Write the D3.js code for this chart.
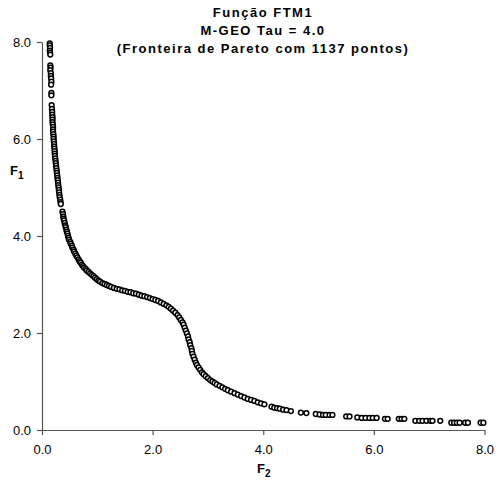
<!DOCTYPE html>
<html><head><meta charset="utf-8">
<script src="https://cdn.jsdelivr.net/npm/d3@7"></script>
<style>
html,body{margin:0;padding:0;background:#fff;}
svg{display:block;font-family:"Liberation Sans",Arial,sans-serif;}
</style></head>
<body>
<svg id="chart" width="498" height="490"></svg>
<script>
const titleLines = ["Função FTM1", "M-GEO Tau = 4.0", "(Fronteira de Pareto com 1137 pontos)"];
const xTicks = [0, 2, 4, 6, 8];
const yTicks = [0, 2, 4, 6, 8];

// [F2, F1] pairs
const branchUpper = [
 [0.14,7.97],[0.14,7.93],[0.145,7.88],[0.14,7.82],[0.145,7.78],[0.15,7.74],
 [0.15,7.52],[0.155,7.47],[0.15,7.42],[0.16,7.36],[0.16,7.3],[0.165,7.25],[0.17,7.18],[0.165,7.12],
 [0.17,6.95],[0.17,6.9],
 [0.175,6.7],[0.18,6.62],[0.185,6.56],[0.185,6.5],[0.19,6.45],[0.19,6.4],[0.19,6.35],[0.195,6.3],[0.2,6.25],
 [0.2,6.2],[0.2,6.15],[0.205,6.1],[0.21,6.05],[0.21,6.0],[0.215,5.95],[0.22,5.9],[0.22,5.85],[0.225,5.8],
 [0.23,5.75],[0.23,5.7],[0.235,5.65],[0.24,5.6],[0.245,5.55],[0.25,5.5],[0.255,5.45],[0.26,5.4],[0.265,5.35],
 [0.27,5.3],[0.275,5.25],[0.28,5.2],[0.285,5.15],[0.29,5.1],[0.295,5.05],[0.3,5.0],[0.305,4.95],[0.31,4.9],
 [0.315,4.85],[0.32,4.8],[0.33,4.75],[0.335,4.7],[0.34,4.66]
];
const branchKnee = [
 [0.37,4.5],[0.38,4.45],[0.385,4.4],[0.39,4.36],[0.4,4.32],[0.41,4.27],[0.42,4.22],[0.43,4.18],[0.44,4.13],[0.45,4.09],
 [0.46,4.05],[0.47,4.0],[0.48,3.96],[0.49,3.92],[0.51,3.88],[0.52,3.84],[0.54,3.8],[0.55,3.76],[0.57,3.72],
 [0.58,3.68],[0.6,3.64],[0.62,3.6],[0.64,3.56],[0.66,3.52],[0.68,3.48],[0.7,3.45],[0.72,3.41],[0.74,3.38],
 [0.76,3.35],[0.79,3.32],[0.81,3.29],[0.84,3.26],[0.87,3.23],[0.9,3.2],[0.93,3.17],[0.96,3.14],[0.99,3.11],
 [1.02,3.08],[1.05,3.06],[1.09,3.03],[1.13,3.01],[1.17,2.99],[1.21,2.97],[1.25,2.95],[1.3,2.93],[1.35,2.91],
 [1.4,2.9],[1.45,2.88],[1.5,2.87],[1.55,2.85],[1.6,2.84],[1.65,2.82],[1.7,2.81],[1.75,2.79],[1.8,2.77],
 [1.85,2.76],[1.9,2.74],[1.95,2.72],[2.0,2.7],[2.05,2.68],[2.1,2.66],[2.15,2.63],[2.2,2.6]
];
const branchS = [
 [2.25,2.57],[2.29,2.54],[2.33,2.5],[2.37,2.46],[2.41,2.42],[2.45,2.37],[2.48,2.32],[2.51,2.27],[2.54,2.22],
 [2.56,2.17],[2.58,2.11],[2.6,2.05],[2.62,1.99],[2.64,1.93],[2.65,1.87],[2.67,1.81],[2.68,1.75],[2.7,1.69],
 [2.71,1.63],[2.72,1.57],[2.74,1.51],[2.76,1.45],[2.78,1.39],[2.8,1.34],[2.83,1.29],[2.86,1.24],[2.89,1.19],
 [2.92,1.15],[2.96,1.11],[3.0,1.07],[3.04,1.03],[3.08,1.0],[3.12,0.97],[3.16,0.94],[3.21,0.91],[3.26,0.88],
 [3.31,0.85],[3.36,0.82],[3.42,0.79],[3.48,0.76],[3.54,0.73],[3.6,0.7],[3.66,0.67],[3.72,0.64],[3.78,0.62],
 [3.84,0.6],[3.9,0.57],[3.96,0.55],[4.02,0.53]
];
const branchTail = [
 [4.15,0.48],[4.2,0.46],[4.25,0.45],[4.3,0.44],[4.36,0.42],[4.42,0.41],[4.5,0.39],[4.68,0.36],[4.78,0.35],
 [4.95,0.33],[5.02,0.32],[5.08,0.31],[5.13,0.31],[5.2,0.31],[5.25,0.31],[5.5,0.28],[5.56,0.28],[5.7,0.26],
 [5.78,0.25],[5.85,0.25],[5.92,0.25],[5.98,0.25],[6.05,0.25],[6.2,0.23],[6.25,0.23],[6.45,0.23],[6.5,0.23],
 [6.55,0.23],[6.75,0.19],[6.82,0.19],[6.88,0.19],[6.95,0.19],[7.02,0.19],[7.06,0.19],[7.2,0.19],[7.4,0.15],
 [7.45,0.15],[7.5,0.15],[7.55,0.15],[7.65,0.15],[7.7,0.15],[7.93,0.15],[7.98,0.15]
];

const points = [...branchUpper, ...branchKnee, ...branchS, ...branchTail];

const svg = d3.select("#chart");
const x = d3.scaleLinear().domain([0, 8]).range([42, 484.5]);
const y = d3.scaleLinear().domain([0, 8]).range([430, 42]);

// title
svg.append("g").selectAll("text").data(titleLines).join("text")
  .attr("x", 263).attr("y", (d, i) => 17 + i * 18)
  .attr("text-anchor", "middle")
  .style("font-weight", "bold").style("font-size", "13px").style("letter-spacing", "1.5px")
  .text(d => d);

// axes
const xAxis = svg.append("g").attr("transform", "translate(0,430)")
  .call(d3.axisBottom(x).tickValues(xTicks).tickFormat(d3.format(".1f")).tickSize(5).tickSizeOuter(0));
const yAxis = svg.append("g").attr("transform", "translate(42,0)")
  .call(d3.axisLeft(y).tickValues(yTicks).tickFormat(d3.format(".1f")).tickSize(5).tickSizeOuter(0));
[xAxis, yAxis].forEach(a => {
  a.select(".domain").attr("stroke", "#555").attr("stroke-width", 1.2);
  a.selectAll(".tick line").attr("stroke", "#555").attr("stroke-width", 1.2);
  a.selectAll("text").style("font-size", "13px").style("font-family", "'Liberation Sans',Arial,sans-serif").attr("fill", "#000");
});
xAxis.selectAll("text").attr("dy", "1.2em");
yAxis.selectAll("text").attr("x", -11).attr("dy", "0.35em");

// axis titles
const f1 = svg.append("text").attr("x", 10).attr("y", 175).style("font-weight", "bold").style("font-size", "13px");
f1.append("tspan").text("F");
f1.append("tspan").attr("dy", 4).style("font-size", "10px").text("1");
const f2 = svg.append("text").attr("x", 257).attr("y", 473).style("font-weight", "bold").style("font-size", "13px");
f2.append("tspan").text("F");
f2.append("tspan").attr("dy", 4).style("font-size", "10px").text("2");

// points
svg.append("g").selectAll("circle").data(points).join("circle")
  .attr("cx", d => x(d[0])).attr("cy", d => y(d[1]))
  .attr("r", 2.4).attr("fill", "#fff").attr("stroke", "#000").attr("stroke-width", 1.5);
</script>
</body></html>
